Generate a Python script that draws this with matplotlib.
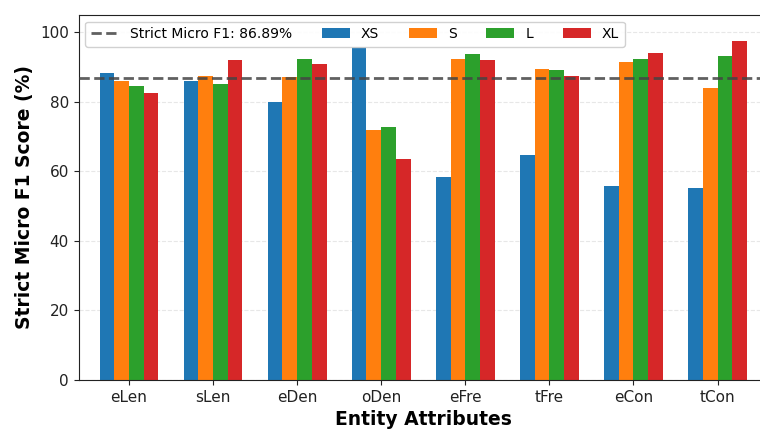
import numpy as np
import matplotlib
matplotlib.use("Agg")
import matplotlib.pyplot as plt

# data
attributes = ['eLen', 'sLen', 'eDen', 'oDen', 'eFre', 'tFre', 'eCon', 'tCon']
sizes = ['XS', 'S', 'L', 'XL']
xs_scores = [88.3, 86.0, 80.0, 95.8, 58.4, 64.7, 55.8, 55.3]
s_scores = [86.0, 87.5, 87.2, 71.9, 92.4, 89.5, 91.5, 84.0]
l_scores = [84.6, 85.2, 92.4, 72.8, 93.8, 89.2, 92.4, 93.2]
xl_scores = [82.6, 92.1, 90.9, 63.6, 92.1, 87.5, 94.1, 97.3]
overall_f1 = 86.89

colors = ['#1f77b4', '#ff7f0e', '#2ca02c', '#d62728']
series = [xs_scores, s_scores, l_scores, xl_scores]

fig = plt.figure(figsize=(7.6, 4.3), dpi=100)
ax = fig.add_axes([78.5/760, 50/430, (768-78.5)/760, 365.3/430])

x = np.arange(len(attributes))
width = 0.175

ax.axhline(overall_f1, color='#444444', linestyle='--', linewidth=2, alpha=0.85,
           label=f'Strict Micro F1: {overall_f1:.2f}%', zorder=3)

for i, (name, vals) in enumerate(zip(sizes, series)):
    offset = (i - 1.5) * width
    ax.bar(x + offset, vals, width, color=colors[i], label=name, zorder=2)

ax.set_xticks(x)
ax.set_xticklabels(attributes, fontsize=11)
ax.tick_params(axis='both', labelsize=11, colors='#222222')
ax.set_xlim(-0.6, 7.6)
ax.set_ylim(0, 105)
ax.set_xlabel('Entity Attributes', fontsize=13.5, fontweight='bold', labelpad=4)
ax.set_ylabel('Strict Micro F1 Score (%)', fontsize=13.5, fontweight='bold')
ax.grid(axis='y', linestyle='--', alpha=0.3, zorder=0)
ax.set_axisbelow(True)
for s in ax.spines.values():
    s.set_color('#222222')
# the right edge of the axes falls outside the saved picture
ax.spines['right'].set_visible(False)

ax.legend(loc='upper left', ncol=5, fontsize=10, framealpha=0.9, columnspacing=2.15)

fig.savefig('out.png', dpi=100)
